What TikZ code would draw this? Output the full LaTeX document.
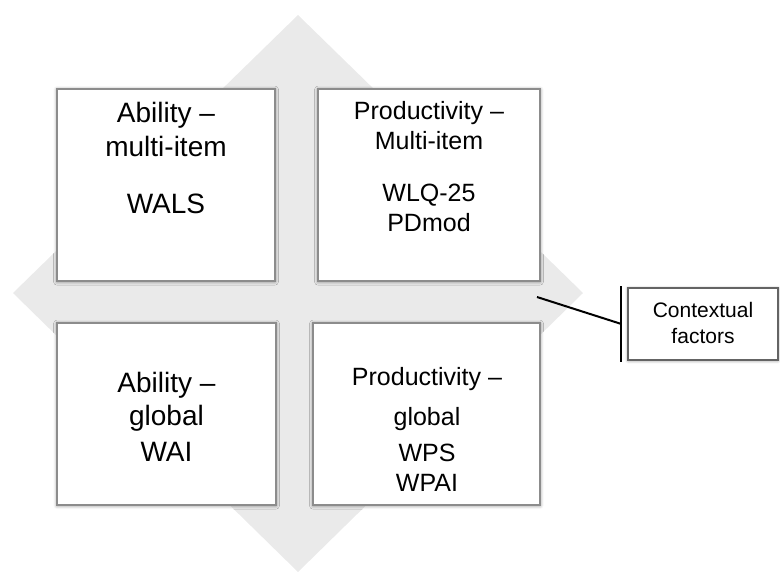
\documentclass[tikz,border=0pt]{standalone}
\usepackage{fontspec}
\setmainfont{Liberation Sans}
\usetikzlibrary{shadows.blur}
\definecolor{diamondgray}{RGB}{234,234,234}
\definecolor{boxgray}{RGB}{140,140,140}
\definecolor{ctxgray}{RGB}{100,100,100}
\begin{document}
\begin{tikzpicture}[x=1pt,y=-1pt,
  quad/.style={draw=boxgray, line width=1.2pt, fill=white,
    blur shadow={shadow xshift=0pt, shadow yshift=-0.6pt, shadow blur radius=3.5pt, shadow opacity=50}},
  big/.style={font=\fontsize{28}{28}\selectfont, anchor=base, inner sep=0pt},
  mid/.style={font=\fontsize{25}{25}\selectfont, anchor=base, inner sep=0pt},
  small/.style={font=\fontsize{21}{21}\selectfont, anchor=base, inner sep=0pt},
  link/.style={draw=black, line width=2pt}]
\useasboundingbox (0,0) rectangle (780,574);
% background diamond
\fill[diamondgray] (298,15) -- (583,293) -- (298,572) -- (13,293) -- cycle;
% quadrant boxes
\node[quad, minimum width=218pt, minimum height=192pt] (tl) at (166,185) {};
\node[quad, minimum width=222pt, minimum height=192pt] (tr) at (429,185) {};
\node[quad, minimum width=219pt, minimum height=182pt] (bl) at (166.5,414) {};
\node[quad, minimum width=227pt, minimum height=182pt] (br) at (426.5,414) {};
% texts
\node[big] (tl1) at (166,122) {Ability –};
\node[big] (tl2) at (166,156) {multi-item};
\node[big] (tl3) at (166,213) {WALS};
\node[mid] (tr1) at (429,119) {Productivity –};
\node[mid] (tr2) at (429,149) {Multi-item};
\node[mid] (tr3) at (429,201) {WLQ-25};
\node[mid] (tr4) at (429,231) {PDmod};
\node[big] (bl1) at (166.5,392) {Ability –};
\node[big] (bl2) at (166.5,425) {global};
\node[big] (bl3) at (166.5,461) {WAI};
\node[mid] (br1) at (427,385) {Productivity –};
\node[mid] (br2) at (427,425) {global};
\node[mid] (br3) at (427,461) {WPS};
\node[mid] (br4) at (427,491) {WPAI};
% contextual factors
\node[draw=ctxgray, line width=1.2pt, fill=white, minimum width=150pt, minimum height=72pt,
  blur shadow={shadow xshift=0pt, shadow yshift=-0.6pt, shadow blur radius=3pt, shadow opacity=45}] (ctx) at (703,324) {};
\node[small] (ctx1) at (703,317) {Contextual};
\node[small] (ctx2) at (703,343) {factors};
\coordinate (barT) at ([xshift=-6pt,yshift=1pt]ctx.north west);
\coordinate (barB) at ([xshift=-6pt,yshift=-1pt]ctx.south west);
\coordinate (barM) at ([xshift=-6pt]ctx.west);
\draw[link] (barT) -- (barB);
\coordinate (cin) at (537,297);
\draw[link] (cin) -- (barM);
\end{tikzpicture}
\end{document}
